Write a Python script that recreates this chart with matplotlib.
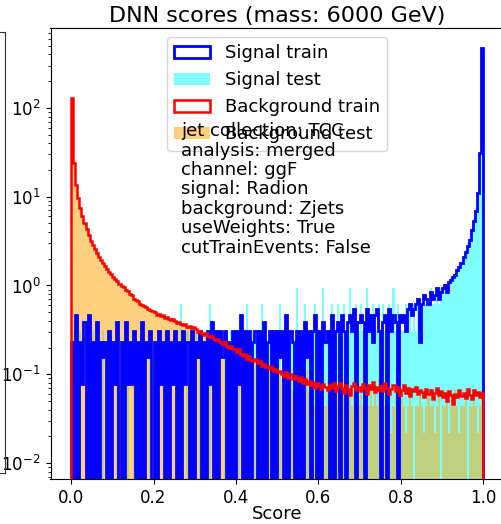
import numpy as np
import matplotlib
matplotlib.use("Agg")
import matplotlib.pyplot as plt
from matplotlib.lines import Line2D

# ---------------- data (200 bins on [0, 1]) ----------------
n_bins = 200
score_range = (0.0, 1.0)

# Background train (density per bin)
bkg_train = [
    130, 24, 13.5, 9.6, 7.4, 6.0, 5.0, 4.3, 3.7, 3.2,
    2.85, 2.55, 2.3, 2.1, 1.92, 1.78, 1.65, 1.52, 1.43, 1.33,
    1.25, 1.17, 1.12, 1.04, 0.99, 0.95, 0.89, 0.86, 0.81, 0.78,
    0.71, 0.69, 0.66, 0.62, 0.61, 0.58, 0.57, 0.55, 0.53, 0.51,
    0.50, 0.47, 0.48, 0.45, 0.46, 0.43, 0.44, 0.42, 0.41, 0.42,
    0.40, 0.38, 0.39, 0.37, 0.36, 0.37, 0.34, 0.35, 0.33, 0.34,
    0.32, 0.30, 0.31, 0.29, 0.28, 0.29, 0.27, 0.26, 0.27, 0.25,
    0.24, 0.25, 0.23, 0.22, 0.23, 0.21, 0.20, 0.21, 0.19, 0.19,
    0.18, 0.19, 0.17, 0.16, 0.17, 0.15, 0.16, 0.145, 0.14, 0.15,
    0.135, 0.14, 0.125, 0.13, 0.12, 0.125, 0.115, 0.12, 0.11, 0.115,
    0.105, 0.11, 0.10, 0.095, 0.105, 0.09, 0.10, 0.088, 0.095, 0.09,
    0.085, 0.092, 0.08, 0.088, 0.078, 0.085, 0.075, 0.082, 0.07, 0.08,
    0.074, 0.068, 0.078, 0.072, 0.066, 0.076, 0.07, 0.079, 0.065, 0.074,
    0.08, 0.07, 0.062, 0.076, 0.068, 0.058, 0.074, 0.08, 0.066, 0.071,
    0.064, 0.078, 0.07, 0.06, 0.075, 0.068, 0.082, 0.063, 0.072, 0.067,
    0.074, 0.065, 0.079, 0.07, 0.06, 0.068, 0.076, 0.064, 0.071, 0.058,
    0.066, 0.075, 0.062, 0.07, 0.057, 0.068, 0.064, 0.072, 0.06, 0.067,
    0.063, 0.055, 0.069, 0.06, 0.066, 0.052, 0.061, 0.07, 0.058, 0.064,
    0.056, 0.062, 0.05, 0.065, 0.058, 0.046, 0.06, 0.055, 0.066, 0.057,
    0.061, 0.054, 0.068, 0.059, 0.052, 0.066, 0.058, 0.063, 0.056, 0.062,
]

# Background test (density per bin)
bkg_test = [
    128, 25, 13, 9.9, 7.2, 6.1, 4.9, 4.4, 3.6, 3.3,
    2.8, 2.6, 2.25, 2.15, 1.9, 1.8, 1.62, 1.55, 1.4, 1.35,
    1.22, 1.19, 1.1, 1.06, 0.97, 0.96, 0.88, 0.87, 0.8, 0.79,
    0.72, 0.7, 0.65, 0.63, 0.6, 0.59, 0.56, 0.56, 0.52, 0.52,
    0.49, 0.48, 0.46, 0.46, 0.44, 0.44, 0.42, 0.43, 0.4, 0.41,
    0.39, 0.37, 0.38, 0.36, 0.35, 0.36, 0.33, 0.34, 0.32, 0.33,
    0.31, 0.29, 0.3, 0.28, 0.27, 0.28, 0.26, 0.25, 0.26, 0.24,
    0.23, 0.24, 0.22, 0.21, 0.22, 0.2, 0.19, 0.2, 0.18, 0.18,
    0.17, 0.18, 0.16, 0.15, 0.16, 0.14, 0.15, 0.13, 0.13, 0.14,
    0.13, 0.13, 0.12, 0.12, 0.11, 0.12, 0.11, 0.11, 0.1, 0.11,
    0.1, 0.1, 0.088, 0.088, 0.11, 0.088, 0.088, 0.066, 0.11, 0.088,
    0.066, 0.088, 0.088, 0.066, 0.11, 0.066, 0.066, 0.088, 0.044, 0.088,
    0.066, 0.088, 0.066, 0.044, 0.088, 0.066, 0.066, 0.044, 0.088, 0.066,
    0.066, 0.044, 0.088, 0.066, 0.11, 0.066, 0.044, 0.066, 0.088, 0.044,
    0.066, 0.044, 0.066, 0.088, 0.044, 0.066, 0.044, 0.066, 0.044, 0.088,
    0.044, 0.066, 0.044, 0.044, 0.066, 0.022, 0.044, 0.066, 0.044, 0.044,
    0.066, 0.044, 0.022, 0.044, 0.066, 0.044, 0.0, 0.044, 0.044, 0.066,
    0.044, 0.022, 0.044, 0.066, 0.044, 0.044, 0.022, 0.044, 0.066, 0.0,
    0.044, 0.044, 0.066, 0.022, 0.044, 0.044, 0.066, 0.044, 0.022, 0.044,
    0.044, 0.066, 0.0, 0.044, 0.044, 0.066, 0.044, 0.022, 0.044, 0.066,
]

# Signal train: weighted event counts per bin and the weight per event
sig_train_unit = 0.0776
sig_train_counts = [
    3, 0, 6, 0, 3, 1, 5, 0, 6, 0,
    3, 0, 5, 0, 3, 2, 3, 0, 4, 0,
    3, 1, 5, 0, 3, 0, 5, 1, 3, 1,
    4, 0, 3, 0, 5, 0, 3, 2, 4, 0,
    3, 0, 4, 1, 3, 0, 4, 0, 3, 1,
    4, 0, 3, 0, 4, 1, 3, 0, 4, 0,
    3, 2, 4, 0, 3, 0, 4, 1, 5, 0,
    4, 0, 4, 2, 4, 0, 3, 0, 4, 0,
    4, 1, 6, 0, 4, 0, 4, 0, 3, 4,
    0, 4, 0, 5, 0, 3, 4, 0, 4, 0,
    4, 2, 4, 0, 6, 0, 4, 3, 0, 4,
    0, 4, 0, 5, 2, 4, 0, 4, 6, 0,
    4, 0, 5, 3, 4, 0, 6, 0, 4, 5,
    0, 6, 4, 0, 5, 6, 4, 7, 0, 5,
    6, 5, 0, 7, 4, 6, 3, 6, 7, 4,
    0, 5, 6, 0, 7, 4, 6, 5, 0, 6,
    5, 6, 4, 7, 8, 6, 7, 8, 9, 3,
    8, 10, 9, 8, 11, 9, 10, 12, 9, 11,
    12, 13, 11, 14, 15, 16, 17, 19, 21, 23,
    27, 31, 36, 42, 54, 68, 88, 142, 400, 6060,
]

# Signal test: weighted event counts per bin and the weight per event
sig_test_unit = 0.31
sig_test_counts = [
    0, 1, 0, 0, 1, 0, 0, 1, 0, 0,
    1, 0, 0, 0, 0, 1, 0, 0, 0, 1,
    0, 0, 1, 0, 0, 0, 0, 1, 0, 0,
    1, 0, 0, 0, 0, 1, 0, 0, 1, 0,
    0, 0, 1, 0, 0, 1, 0, 1, 0, 0,
    0, 1, 0, 2, 0, 0, 1, 0, 1, 0,
    1, 0, 1, 0, 0, 1, 0, 2, 0, 1,
    1, 0, 1, 0, 1, 1, 0, 1, 0, 1,
    1, 1, 0, 1, 0, 2, 1, 0, 1, 1,
    0, 1, 2, 0, 1, 0, 1, 1, 1, 0,
    1, 2, 0, 1, 1, 0, 1, 1, 0, 3,
    1, 1, 0, 2, 1, 1, 0, 1, 2, 1,
    0, 1, 3, 1, 1, 0, 2, 1, 1, 2,
    1, 1, 2, 0, 1, 3, 1, 1, 2, 1,
    2, 1, 1, 3, 1, 1, 2, 1, 1, 2,
    1, 2, 1, 1, 2, 1, 3, 1, 2, 1,
    1, 1, 2, 1, 2, 1, 2, 1, 2, 1,
    2, 2, 2, 2, 3, 2, 2, 3, 2, 3,
    3, 3, 3, 3, 4, 4, 4, 5, 5, 6,
    7, 8, 10, 11, 14, 18, 24, 36, 100, 1520,
]

x_ticks = [0.0, 0.2, 0.4, 0.6, 0.8, 1.0]
title = "DNN scores (mass: 6000 GeV)"
info_lines = [
    "jet collection: TCC",
    "analysis: merged",
    "channel: ggF",
    "signal: Radion",
    "background: Zjets",
    "useWeights: True",
    "cutTrainEvents: False",
]

# ---------------- plot ----------------
W, H = 501, 524
fig = plt.figure(figsize=(W / 100, H / 100), dpi=100)
ax = fig.add_axes([50.5 / W, 45 / H, 453.2 / W, 451 / H])

edges = np.linspace(score_range[0], score_range[1], n_bins + 1)
centers = 0.5 * (edges[:-1] + edges[1:])

sig_train = np.array(sig_train_counts, dtype=float) * sig_train_unit
sig_test = np.array(sig_test_counts, dtype=float) * sig_test_unit

ax.hist(centers, bins=edges, weights=sig_train, histtype="step",
        color="blue", lw=2.0, log=True, label="Signal train", zorder=2.5)
ax.hist(centers, bins=edges, weights=sig_test, histtype="stepfilled",
        color="cyan", alpha=0.5, log=True, label="Signal test", zorder=1.0)
ax.hist(centers, bins=edges, weights=np.array(bkg_train), histtype="step",
        color="red", lw=1.8, log=True, label="Background train", zorder=3.0)
ax.hist(centers, bins=edges, weights=np.array(bkg_test), histtype="stepfilled",
        color="orange", alpha=0.5, log=True, label="Background test", zorder=1.5)

ax.set_xlim(-0.05, 1.05)
ax.set_ylim(10 ** -2.18, 10 ** 2.90)
ax.set_xticks(x_ticks)
ax.tick_params(labelsize=12)
ax.set_xlabel("Score", fontsize=13, labelpad=-1)
ax.set_title(title, fontsize=16, pad=4)

ax.legend(loc="upper center", fontsize=13)
ax.text(0.289, 0.791, "\n".join(info_lines), transform=ax.transAxes,
        fontsize=13, va="top", ha="left", linespacing=1.1, zorder=6)

# fragment of neighbouring panel frame at far left
fx = 5 / W
fy0, fy1 = (H - 473) / H, (H - 32) / H
for xs, ys in [([fx, fx], [fy0, fy1]), ([0, fx], [fy0, fy0]), ([0, fx], [fy1, fy1])]:
    fig.add_artist(Line2D(xs, ys, transform=fig.transFigure, color="#333333", lw=0.8))

fig.savefig("out.png", dpi=100)
